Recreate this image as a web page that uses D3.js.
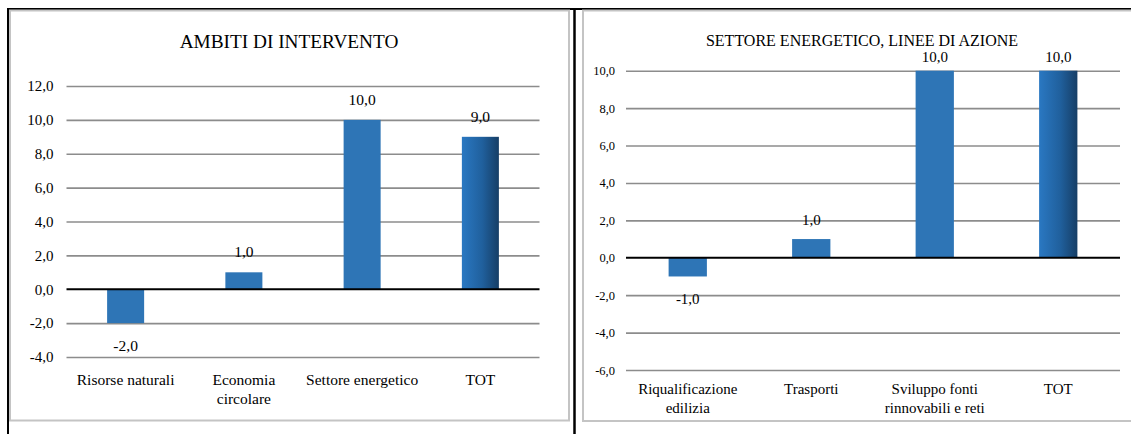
<!DOCTYPE html>
<html><head><meta charset="utf-8">
<script src="https://cdn.jsdelivr.net/npm/d3@7"></script>
<style>
html,body{margin:0;padding:0;background:#fff;}
svg{display:block;}
svg text{font-family:"Liberation Serif","Tinos","Times New Roman",Times,"DejaVu Serif","Noto Serif",serif !important;fill:#000;}
</style></head>
<body>
<svg id="c" width="1131" height="434"></svg>
<script>
// ---- data ----
const titleLeft = "AMBITI DI INTERVENTO";
const categoriesLeft = [["Risorse naturali"], ["Economia", "circolare"], ["Settore energetico"], ["TOT"]];
const valuesLeft = [-2, 1, 10, 9];
const ticksLeft = [-4, -2, 0, 2, 4, 6, 8, 10, 12];

const titleRight = "SETTORE ENERGETICO, LINEE DI AZIONE";
const categoriesRight = [["Riqualificazione", "edilizia"], ["Trasporti"], ["Sviluppo fonti", "rinnovabili e reti"], ["TOT"]];
const valuesRight = [-1, 1, 10, 10];
const ticksRight = [-6, -4, -2, 0, 2, 4, 6, 8, 10];

const FONT = '"Liberation Serif","Tinos","Times New Roman",Times,"DejaVu Serif","Noto Serif",serif';
const fmt = v => d3.format(".1f")(v).replace(".", ",").replace("−", "-");

const svg = d3.select("#c").attr("font-family", FONT);
const defs = svg.append("defs");
const grad = defs.append("linearGradient").attr("id", "totGrad").attr("x1", "0%").attr("x2", "100%").attr("y1", "0%").attr("y2", "0%");
grad.append("stop").attr("offset", "0%").attr("stop-color", "#2a78c2");
grad.append("stop").attr("offset", "55%").attr("stop-color", "#20609d");
grad.append("stop").attr("offset", "100%").attr("stop-color", "#163e66");

// outer table lines
svg.append("line").attr("x1", 7).attr("x2", 1131).attr("y1", 9).attr("y2", 9).attr("stroke", "#000").attr("stroke-width", 2);
svg.append("line").attr("x1", 8).attr("x2", 8).attr("y1", 8).attr("y2", 434).attr("stroke", "#000").attr("stroke-width", 2);
svg.append("line").attr("x1", 574.5).attr("x2", 574.5).attr("y1", 8).attr("y2", 434).attr("stroke", "#000").attr("stroke-width", 2.5);

function drawChart(cfg) {
  const g = svg.append("g").attr("font-family", FONT);
  g.append("rect").attr("x", cfg.frame[0]).attr("y", cfg.frame[1]).attr("width", cfg.frame[2]).attr("height", cfg.frame[3])
    .attr("fill", "none").attr("stroke", "#c4c4c4").attr("stroke-width", 2);
  g.append("text").attr("x", cfg.titleX).attr("y", cfg.titleY).attr("text-anchor", "middle")
    .attr("font-family", FONT).style("font-size", cfg.titleSize + "px").text(cfg.title);

  const x = d3.scaleBand().domain(d3.range(cfg.values.length)).range([cfg.x0, cfg.x1]).paddingInner(0).paddingOuter(0);
  const y = d3.scaleLinear().domain([cfg.ticks[0], cfg.ticks[cfg.ticks.length - 1]]).range([cfg.yBottom, cfg.yTop]);

  const yAxis = d3.axisLeft(y).tickValues(cfg.ticks).tickFormat(fmt).tickSize(0).tickPadding(0);
  const ax = g.append("g").attr("transform", `translate(${cfg.x0 - cfg.labelGap},0)`).call(yAxis).attr("font-family", FONT);
  ax.select(".domain").remove();
  ax.selectAll("text").style("font-size", cfg.tickSize + "px").attr("fill", "#000").attr("font-family", FONT);

  const grid = d3.axisLeft(y).tickValues(cfg.ticks.filter(t => t !== 0)).tickSize(-(cfg.x1 - cfg.x0)).tickFormat("");
  const gg = g.append("g").attr("transform", `translate(${cfg.x0},0)`).call(grid);
  gg.select(".domain").remove();
  gg.selectAll("line").attr("stroke", "#8c8c8c").attr("stroke-width", 1.6);

  const bw = x.step() * cfg.barFrac;
  const n = cfg.values.length;
  g.selectAll("rect.bar").data(cfg.values).join("rect").attr("class", "bar")
    .attr("x", (d, i) => x(i) + x.step() / 2 - bw / 2)
    .attr("width", bw)
    .attr("y", d => y(Math.max(0, d)))
    .attr("height", d => Math.abs(y(d) - y(0)))
    .attr("fill", (d, i) => i === n - 1 ? "url(#totGrad)" : "#2e75b6");

  g.append("line").attr("x1", cfg.x0).attr("x2", cfg.x1).attr("y1", y(0)).attr("y2", y(0)).attr("stroke", "#000").attr("stroke-width", 2);

  g.selectAll("text.val").data(cfg.values).join("text").attr("class", "val")
    .attr("x", (d, i) => x(i) + x.step() / 2)
    .attr("y", d => d >= 0 ? Math.max(cfg.valMinY, y(d) - cfg.valAbove) : y(d) + cfg.valBelow)
    .attr("text-anchor", "middle").attr("font-family", FONT).style("font-size", cfg.valSize + "px").text(fmt);

  const cl = g.selectAll("text.cat").data(cfg.cats).join("text").attr("class", "cat")
    .attr("x", (d, i) => x(i) + x.step() / 2)
    .attr("y", cfg.catY)
    .attr("text-anchor", "middle").attr("font-family", FONT).style("font-size", cfg.catSize + "px");
  cl.selectAll("tspan").data(d => d).join("tspan")
    .attr("x", function () { return d3.select(this.parentNode).attr("x"); })
    .attr("dy", (d, i) => i === 0 ? 0 : cfg.catLH).text(d => d);
}

drawChart({
  frame: [10, 10.5, 559, 410], title: titleLeft, titleX: 289, titleY: 48, titleSize: 19.3,
  values: valuesLeft, ticks: ticksLeft, cats: categoriesLeft,
  x0: 66.5, x1: 539.5, yTop: 86, yBottom: 357, labelGap: 13, tickSize: 15,
  barFrac: 0.313, valAbove: 15, valBelow: 28, valMinY: 0, valSize: 15.5,
  catY: 384.5, catLH: 19.5, catSize: 15.5
});

drawChart({
  frame: [583, 10.5, 560, 410.5], title: titleRight, titleX: 862, titleY: 46, titleSize: 16,
  values: valuesRight, ticks: ticksRight, cats: categoriesRight,
  x0: 626, x1: 1120, yTop: 70.7, yBottom: 370, labelGap: 11, tickSize: 12.5,
  barFrac: 0.31, valAbove: 14, valBelow: 27.5, valMinY: 61.5, valSize: 15,
  catY: 394, catLH: 18.5, catSize: 15
});
</script>
</body></html>
